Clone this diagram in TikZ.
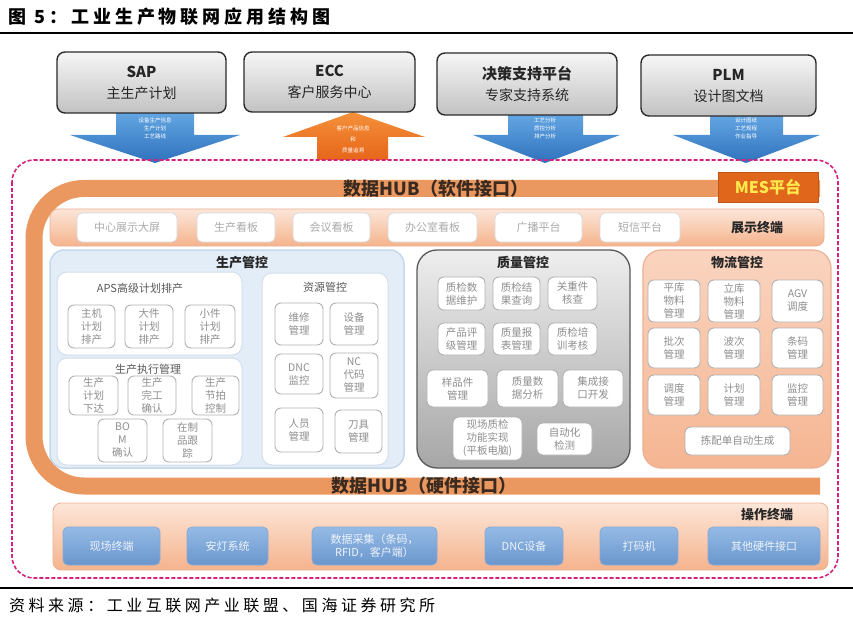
\documentclass[tikz,border=0pt]{standalone}
\usepackage{fontspec}
\newfontfamily\cjk{Noto Sans CJK SC}
\newfontfamily\cjkls{Noto Sans CJK SC}[LetterSpace=22]
\newcommand\fsz[2]{\fontsize{#1}{#2}\selectfont}
\newcommand\bx[7]{\node[#6, minimum width={#4-#2}, minimum height={#5-#3}] (#1) at ({(#2+#4)/2},{(#3+#5)/2}) {#7};}
\definecolor{dk}{HTML}{2B2B2B}
\definecolor{tbT}{HTML}{F6F6F6}
\definecolor{tbB}{HTML}{C2C2C2}
\definecolor{arBa}{HTML}{66A8E4}
\definecolor{arBb}{HTML}{2F72BD}
\definecolor{arOa}{HTML}{F5913A}
\definecolor{arOb}{HTML}{E6651A}
\definecolor{mag}{HTML}{D3237C}
\definecolor{band}{HTML}{EA985F}
\definecolor{mesC}{HTML}{E0661C}
\definecolor{mesT}{HTML}{FFE94D}
\definecolor{barT}{HTML}{FCE6D8}
\definecolor{barB}{HTML}{F5B38D}
\definecolor{wbD}{HTML}{D8D8D8}
\definecolor{txg}{HTML}{8E8E8E}
\definecolor{txl}{HTML}{AAAAAA}
\definecolor{bluP}{HTML}{E3EDF8}
\definecolor{bluD}{HTML}{C6D8EB}
\definecolor{subD}{HTML}{D3DFEA}
\definecolor{gryT}{HTML}{EEEEEE}
\definecolor{gryB}{HTML}{A6A6A6}
\definecolor{gryD}{HTML}{595959}
\definecolor{salT}{HTML}{FAD4BF}
\definecolor{salB}{HTML}{F5B592}
\definecolor{salD}{HTML}{EBB194}
\definecolor{btT}{HTML}{95BAE5}
\definecolor{btB}{HTML}{6A96CD}
\definecolor{btD}{HTML}{86A9D6}
\definecolor{btX}{HTML}{EDF3FB}
\definecolor{hubT}{HTML}{3A2A20}
\begin{document}
\begin{tikzpicture}[x=1pt,y=-1pt,
  tbox/.style={draw=dk, line width=1.4pt, rounded corners=8pt, top color=tbT, bottom color=tbB, align=center, inner sep=0pt, text=black!85, font=\cjk\fsz{14}{21}},
  arrtxt/.style={text=white, font=\cjk\fsz{5.5}{6.5}, inner sep=0pt},
  wbox/.style={draw=wbD, line width=0.8pt, rounded corners=5pt, fill=white, text=txl, align=center, inner sep=0pt, font=\cjk\fsz{11}{13}},
  gbox/.style={draw=black!30, line width=0.9pt, rounded corners=6pt, fill=white, text=txg, align=center, inner sep=0pt, font=\cjk\fsz{10.5}{13}},
  barst/.style={draw=salD, line width=0.8pt, rounded corners=8pt, top color=barT, bottom color=barB, inner sep=0pt},
  bluepanel/.style={draw=bluD, line width=1.5pt, rounded corners=14pt, fill=bluP, inner sep=0pt},
  subpanel/.style={draw=subD, line width=1pt, rounded corners=10pt, fill=white, inner sep=0pt},
  greypanel/.style={draw=gryD, line width=1.3pt, rounded corners=20pt, top color=gryT, bottom color=gryB, inner sep=0pt},
  salpanel/.style={draw=salD, line width=1.2pt, rounded corners=18pt, top color=salT, bottom color=salB, inner sep=0pt},
  btn/.style={draw=btD, line width=0.8pt, rounded corners=5pt, top color=btT, bottom color=btB, text=btX, align=center, inner sep=0pt, font=\cjk\fsz{11}{13}},
  ttl/.style={font=\cjk\fsz{13}{15}\bfseries, text=black!85, inner sep=0pt},
  subttl/.style={font=\cjk\fsz{11}{13}, text=black!65, inner sep=0pt},
  hubtxt/.style={font=\cjk\fsz{18}{20}\bfseries, text=hubT, inner sep=0pt},
  mesbox/.style={fill=mesC, draw=mesC!85!black, line width=0.6pt, text=mesT, font=\cjk\fsz{16}{18}\bfseries, inner sep=0pt}
]
\useasboundingbox (0,0) rectangle (853,620);
\fill[white] (0,0) rectangle (853,620);

% title and rules
\node[anchor=west, font=\cjkls\fsz{18}{20}\bfseries, inner sep=0pt] (title) at (8,17) {图 5：工业生产物联网应用结构图};
\draw[line width=1.2pt] (0,33) -- (853,33);
\draw[line width=1.2pt] (0,588) -- (853,588);
\node[anchor=west, font=\cjkls\fsz{16}{18}, inner sep=0pt] (src) at (9,605) {资料来源：工业互联网产业联盟、国海证券研究所};

% arrows
\shade[top color=arBa, bottom color=arBb] (116,110) -- (194,110) -- (194,135) -- (240,135) -- (155,163) -- (70,135) -- (116,135) -- cycle;
\node[arrtxt] (s1) at (155,120) {设备生产信息};
\node[arrtxt] (s2) at (155,128) {生产计划};
\node[arrtxt] (s3) at (155,136) {工艺路线};

\shade[top color=arOa, bottom color=arOb] (353,112) -- (425,137) -- (388,137) -- (388,160) -- (317,160) -- (317,137) -- (283,137) -- cycle;
\node[arrtxt] (c1) at (353,128) {客户产品信息};
\node[arrtxt] (c2) at (353,139) {和};
\node[arrtxt] (c3) at (353,150) {质量追溯};

\shade[top color=arBa, bottom color=arBb] (508,112) -- (583,112) -- (583,135) -- (620,135) -- (545,163) -- (473,135) -- (508,135) -- cycle;
\node[arrtxt] (j1) at (545,120) {工艺分析};
\node[arrtxt] (j2) at (545,128) {质控分析};
\node[arrtxt] (j3) at (545,136) {排产分析};

\shade[top color=arBa, bottom color=arBb] (710,113) -- (783,113) -- (783,135) -- (820,135) -- (746,163) -- (673,135) -- (710,135) -- cycle;
\node[arrtxt] (p1) at (746,120) {设计图纸};
\node[arrtxt] (p2) at (746,128) {工艺规程};
\node[arrtxt] (p3) at (746,136) {作业指导};

% top boxes
\bx{sap}{57}{52}{226}{113}{tbox}{{\fsz{15}{21}\bfseries SAP}\\主生产计划}
\bx{ecc}{244}{52}{415}{112}{tbox}{{\fsz{15}{21}\bfseries ECC}\\客户服务中心}
\bx{jc}{437}{53}{617}{115}{tbox}{{\fsz{15}{21}\bfseries 决策支持平台}\\专家支持系统}
\bx{plm}{641}{55}{816}{116}{tbox}{{\fsz{15}{21}\bfseries PLM}\\设计图文档}

% dashed MES border
\draw[mag, line width=1.6pt, dash pattern=on 4pt off 2pt, rounded corners=22pt] (12,160) rectangle (838,578);

% data hub band
\draw[band, line width=17pt, rounded corners=50pt] (820,188.5) -- (34,188.5) -- (34,486) -- (820,486);
\node[hubtxt] (hubs) at (436,189) {数据HUB（软件接口）};
\node[hubtxt] (hubh) at (424,486) {数据HUB（硬件接口）};
\bx{mes}{718}{172}{818}{202}{mesbox}{MES平台}

% display terminal bar
\bx{disp}{50}{209}{824}{246}{barst}{}
\node[ttl] (displ) at (757,228) {展示终端};
\bx{d1}{77}{213}{177}{242}{wbox}{中心展示大屏}
\bx{d2}{197}{213}{275}{242}{wbox}{生产看板}
\bx{d3}{293}{213}{370}{242}{wbox}{会议看板}
\bx{d4}{388}{213}{477}{242}{wbox}{办公室看板}
\bx{d5}{495}{213}{582}{242}{wbox}{广播平台}
\bx{d6}{600}{213}{680}{242}{wbox}{短信平台}

% production control
\bx{prod}{50}{250}{404}{468}{bluepanel}{}
\node[ttl] (prodt) at (242,263) {生产管控};
\bx{aps}{57}{272}{242}{355}{subpanel}{}
\node[subttl] (apst) at (140,288) {APS高级计划排产};
\bx{a1}{68}{305}{115}{348}{gbox}{主机\\计划\\排产}
\bx{a2}{125}{305}{173}{348}{gbox}{大件\\计划\\排产}
\bx{a3}{185}{305}{235}{348}{gbox}{小件\\计划\\排产}
\bx{exe}{57}{358}{242}{465}{subpanel}{}
\node[subttl] (exet) at (148,369) {生产执行管理};
\bx{e1}{69}{376}{118}{415}{gbox}{生产\\计划\\下达}
\bx{e2}{128}{376}{176}{415}{gbox}{生产\\完工\\确认}
\bx{e3}{192}{376}{239}{415}{gbox}{生产\\节拍\\控制}
\bx{e4}{98}{419}{147}{462}{gbox}{BO\\M\\确认}
\bx{e5}{163}{419}{212}{462}{gbox}{在制\\品跟\\踪}
\bx{res}{262}{273}{388}{465}{subpanel}{}
\node[subttl] (rest) at (325,287) {资源管控};
\bx{r1}{275}{303}{323}{345}{gbox}{维修\\管理}
\bx{r2}{330}{303}{378}{345}{gbox}{设备\\管理}
\bx{r3}{275}{354}{323}{394}{gbox}{DNC\\监控}
\bx{r4}{330}{353}{378}{398}{gbox}{NC\\代码\\管理}
\bx{r5}{275}{408}{323}{452}{gbox}{人员\\管理}
\bx{r6}{335}{410}{382}{453}{gbox}{刀具\\管理}

% quality control
\bx{qual}{417}{250}{630}{468}{greypanel}{}
\node[ttl] (qualt) at (523,263) {质量管控};
\bx{q1}{438}{277}{485}{310}{gbox}{质检数\\据维护}
\bx{q2}{493}{277}{540}{310}{gbox}{质检结\\果查询}
\bx{q3}{548}{277}{597}{310}{gbox}{关重件\\核查}
\bx{q4}{438}{323}{485}{355}{gbox}{产品评\\级管理}
\bx{q5}{493}{323}{540}{355}{gbox}{质量报\\表管理}
\bx{q6}{548}{323}{597}{355}{gbox}{质检培\\训考核}
\bx{q7}{427}{370}{488}{407}{gbox}{样品件\\管理}
\bx{q8}{497}{370}{558}{407}{gbox}{质量数\\据分析}
\bx{q9}{563}{370}{623}{407}{gbox}{集成接\\口开发}
\bx{q10}{453}{417}{522}{460}{gbox}{现场质检\\功能实现\\(平板电脑)}
\bx{q11}{537}{423}{592}{455}{gbox}{自动化\\检测}

% logistics control
\bx{logi}{643}{250}{831}{468}{salpanel}{}
\node[ttl] (logit) at (737,263) {物流管控};
\bx{l1}{648}{280}{700}{322}{gbox}{平库\\物料\\管理}
\bx{l2}{708}{280}{760}{322}{gbox}{立库\\物料\\管理}
\bx{l3}{772}{280}{823}{322}{gbox}{AGV\\调度}
\bx{l4}{648}{328}{700}{368}{gbox}{批次\\管理}
\bx{l5}{708}{328}{760}{368}{gbox}{波次\\管理}
\bx{l6}{772}{328}{823}{368}{gbox}{条码\\管理}
\bx{l7}{648}{375}{700}{415}{gbox}{调度\\管理}
\bx{l8}{708}{375}{760}{415}{gbox}{计划\\管理}
\bx{l9}{772}{375}{823}{415}{gbox}{监控\\管理}
\bx{l10}{685}{427}{790}{455}{gbox}{拣配单自动生成}

% operation terminal bar
\bx{ops}{53}{503}{828}{570}{barst}{}
\node[ttl] (opst) at (767,515) {操作终端};
\bx{b1}{63}{527}{160}{565}{btn}{现场终端}
\bx{b2}{187}{527}{268}{565}{btn}{安灯系统}
\bx{b3}{312}{527}{437}{565}{btn}{数据采集（条码，\\RFID，客户端）}
\bx{b4}{485}{527}{563}{565}{btn}{DNC设备}
\bx{b5}{600}{527}{678}{565}{btn}{打码机}
\bx{b6}{708}{527}{820}{565}{btn}{其他硬件接口}
\end{tikzpicture}
\end{document}
